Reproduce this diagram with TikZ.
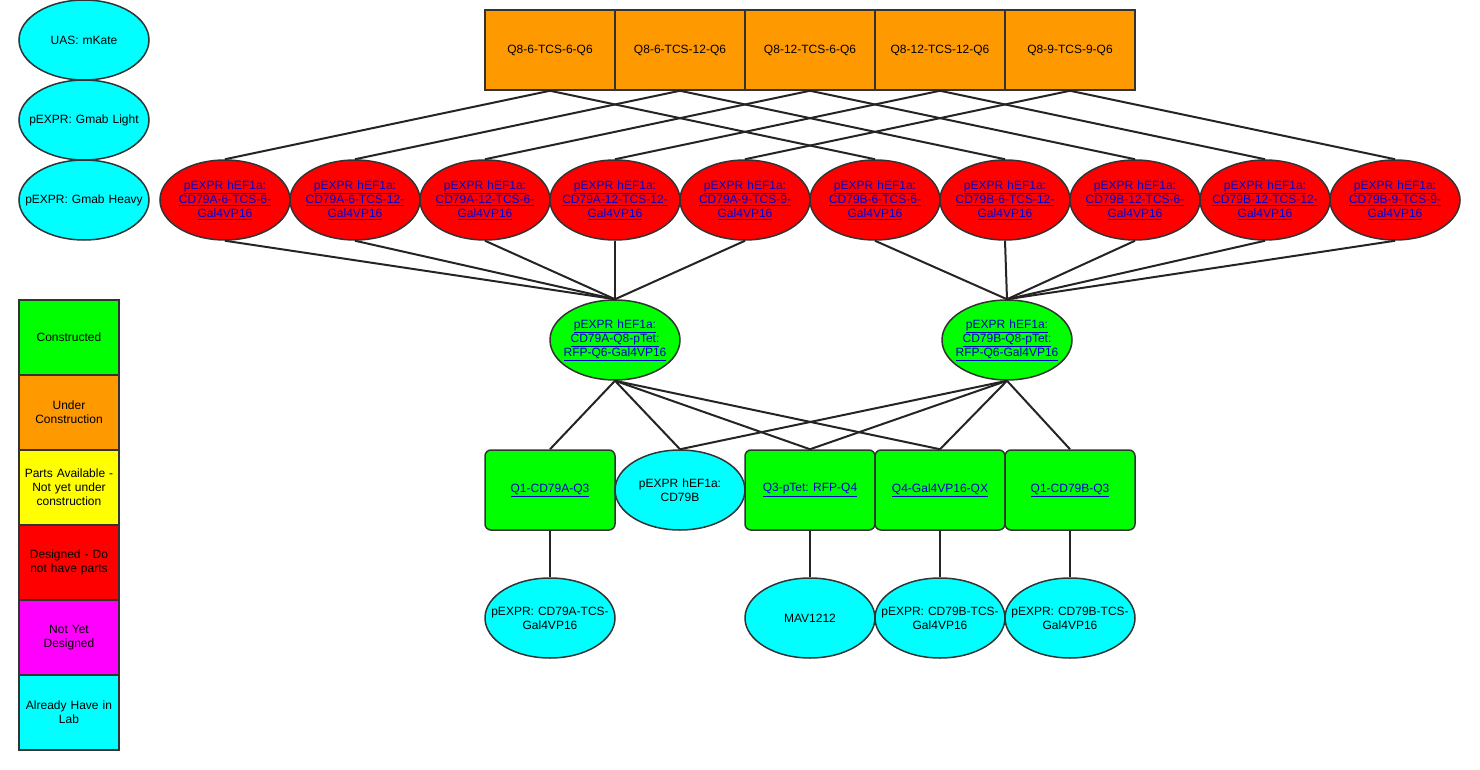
\documentclass[tikz,border=0pt]{standalone}
\usepackage{fontspec}
\setmainfont{Liberation Sans}
\usetikzlibrary{shapes.geometric}

\definecolor{bord}{HTML}{333333}
\definecolor{ccorange}{HTML}{FF9900}
\definecolor{ccrouge}{HTML}{FF0000}
\definecolor{ccvert}{HTML}{00FF00}
\definecolor{cccyan}{HTML}{00FFFF}
\definecolor{ccjaune}{HTML}{FFFF00}
\definecolor{ccmagenta}{HTML}{FF00FF}
\definecolor{lienbleu}{HTML}{0000CC}

\newcommand{\lien}[1]{\underline{#1}}

\begin{document}
\begin{tikzpicture}[x=1pt, y=-1pt, font=\fontsize{12}{14}\selectfont]
\tikzset{ovale/.style={draw=bord, line width=1.5pt, ellipse, minimum width=130pt, minimum height=80pt, inner xsep=-16pt, inner ysep=0pt, text width=120pt, align=center},
boite/.style={draw=bord, line width=1.5pt, rectangle, minimum width=130pt, minimum height=80pt, inner sep=2pt, fill=ccorange},
carre/.style={boite, fill=ccvert, rounded corners=6pt, text=lienbleu},
leg/.style={draw=bord, line width=1.5pt, rectangle, minimum width=100pt, minimum height=75pt, inner sep=0pt, text width=96pt, align=center},
trait/.style={draw=bord!70!black, line width=2pt}}
\useasboundingbox (0,0) rectangle (1480,770);
% deja au labo
\node[ovale, fill=cccyan] (L1) at (84,40) {UAS: mKate};
\node[ovale, fill=cccyan] (L2) at (84,120) {pEXPR: Gmab Light};
\node[ovale, fill=cccyan] (L3) at (84,200) {pEXPR: Gmab Heavy};
% legende
\node[leg, fill=ccvert] (K1) at (69,337.5) {Constructed};
\node[leg, fill=ccorange] (K2) at (69,412.5) {Under\\Construction};
\node[leg, fill=ccjaune] (K3) at (69,487.5) {Parts Available -\\Not yet under\\construction};
\node[leg, fill=ccrouge] (K4) at (69,562.5) {Designed - Do\\not have parts};
\node[leg, fill=ccmagenta] (K5) at (69,637.5) {Not Yet\\Designed};
\node[leg, fill=cccyan] (K6) at (69,712.5) {Already Have in\\Lab};
% en construction
\node[boite] (O1) at (550,50) {Q8-6-TCS-6-Q6};
\node[boite] (O2) at (680,50) {Q8-6-TCS-12-Q6};
\node[boite] (O3) at (810,50) {Q8-12-TCS-6-Q6};
\node[boite] (O4) at (940,50) {Q8-12-TCS-12-Q6};
\node[boite] (O5) at (1070,50) {Q8-9-TCS-9-Q6};
% concus
\node[ovale, fill=ccrouge, text=lienbleu] (R1) at (225,200) {\lien{pEXPR hEF1a:}\\\lien{CD79A-6-TCS-6-}\\\lien{Gal4VP16}};
\node[ovale, fill=ccrouge, text=lienbleu] (R2) at (355,200) {\lien{pEXPR hEF1a:}\\\lien{CD79A-6-TCS-12-}\\\lien{Gal4VP16}};
\node[ovale, fill=ccrouge, text=lienbleu] (R3) at (485,200) {\lien{pEXPR hEF1a:}\\\lien{CD79A-12-TCS-6-}\\\lien{Gal4VP16}};
\node[ovale, fill=ccrouge, text=lienbleu] (R4) at (615,200) {\lien{pEXPR hEF1a:}\\\lien{CD79A-12-TCS-12-}\\\lien{Gal4VP16}};
\node[ovale, fill=ccrouge, text=lienbleu] (R5) at (745,200) {\lien{pEXPR hEF1a:}\\\lien{CD79A-9-TCS-9-}\\\lien{Gal4VP16}};
\node[ovale, fill=ccrouge, text=lienbleu] (R6) at (875,200) {\lien{pEXPR hEF1a:}\\\lien{CD79B-6-TCS-6-}\\\lien{Gal4VP16}};
\node[ovale, fill=ccrouge, text=lienbleu] (R7) at (1005,200) {\lien{pEXPR hEF1a:}\\\lien{CD79B-6-TCS-12-}\\\lien{Gal4VP16}};
\node[ovale, fill=ccrouge, text=lienbleu] (R8) at (1135,200) {\lien{pEXPR hEF1a:}\\\lien{CD79B-12-TCS-6-}\\\lien{Gal4VP16}};
\node[ovale, fill=ccrouge, text=lienbleu] (R9) at (1265,200) {\lien{pEXPR hEF1a:}\\\lien{CD79B-12-TCS-12-}\\\lien{Gal4VP16}};
\node[ovale, fill=ccrouge, text=lienbleu] (R10) at (1395,200) {\lien{pEXPR hEF1a:}\\\lien{CD79B-9-TCS-9-}\\\lien{Gal4VP16}};
% construits
\node[ovale, fill=ccvert, text=lienbleu] (VA) at (615,340) {\lien{pEXPR hEF1a:}\\\lien{CD79A-Q8-pTet:}\\\lien{RFP-Q6-Gal4VP16}};
\node[ovale, fill=ccvert, text=lienbleu] (VB) at (1007,340) {\lien{pEXPR hEF1a:}\\\lien{CD79B-Q8-pTet:}\\\lien{RFP-Q6-Gal4VP16}};
\node[carre] (B1) at (550,490) {\lien{Q1-CD79A-Q3}};
\node[ovale, fill=cccyan] (B2) at (680,490) {pEXPR hEF1a:\\CD79B};
\node[carre] (B3) at (810,490) {\lien{Q3-pTet: RFP-Q4}};
\node[carre] (B4) at (940,490) {\lien{Q4-Gal4VP16-QX}};
\node[carre] (B5) at (1070,490) {\lien{Q1-CD79B-Q3}};
% pieces
\node[ovale, fill=cccyan] (C1) at (550,618) {pEXPR: CD79A-TCS-\\Gal4VP16};
\node[ovale, fill=cccyan] (C2) at (810,618) {MAV1212};
\node[ovale, fill=cccyan] (C3) at (940,618) {pEXPR: CD79B-TCS-\\Gal4VP16};
\node[ovale, fill=cccyan] (C4) at (1070,618) {pEXPR: CD79B-TCS-\\Gal4VP16};
% liens
\draw[trait] (O1.south) -- (R1.north);
\draw[trait] (O1.south) -- (R6.north);
\draw[trait] (O2.south) -- (R2.north);
\draw[trait] (O2.south) -- (R7.north);
\draw[trait] (O3.south) -- (R3.north);
\draw[trait] (O3.south) -- (R8.north);
\draw[trait] (O4.south) -- (R4.north);
\draw[trait] (O4.south) -- (R9.north);
\draw[trait] (O5.south) -- (R5.north);
\draw[trait] (O5.south) -- (R10.north);
\draw[trait] (R1.south) -- (VA.north);
\draw[trait] (R2.south) -- (VA.north);
\draw[trait] (R3.south) -- (VA.north);
\draw[trait] (R4.south) -- (VA.north);
\draw[trait] (R5.south) -- (VA.north);
\draw[trait] (R6.south) -- (VB.north);
\draw[trait] (R7.south) -- (VB.north);
\draw[trait] (R8.south) -- (VB.north);
\draw[trait] (R9.south) -- (VB.north);
\draw[trait] (R10.south) -- (VB.north);
\draw[trait] (VA.south) -- (B1.north);
\draw[trait] (VA.south) -- (B2.north);
\draw[trait] (VA.south) -- (B3.north);
\draw[trait] (VA.south) -- (B4.north);
\draw[trait] (VB.south) -- (B2.north);
\draw[trait] (VB.south) -- (B3.north);
\draw[trait] (VB.south) -- (B4.north);
\draw[trait] (VB.south) -- (B5.north);
\draw[trait] (B1.south) -- (C1.north);
\draw[trait] (B3.south) -- (C2.north);
\draw[trait] (B4.south) -- (C3.north);
\draw[trait] (B5.south) -- (C4.north);
\end{tikzpicture}
\end{document}
